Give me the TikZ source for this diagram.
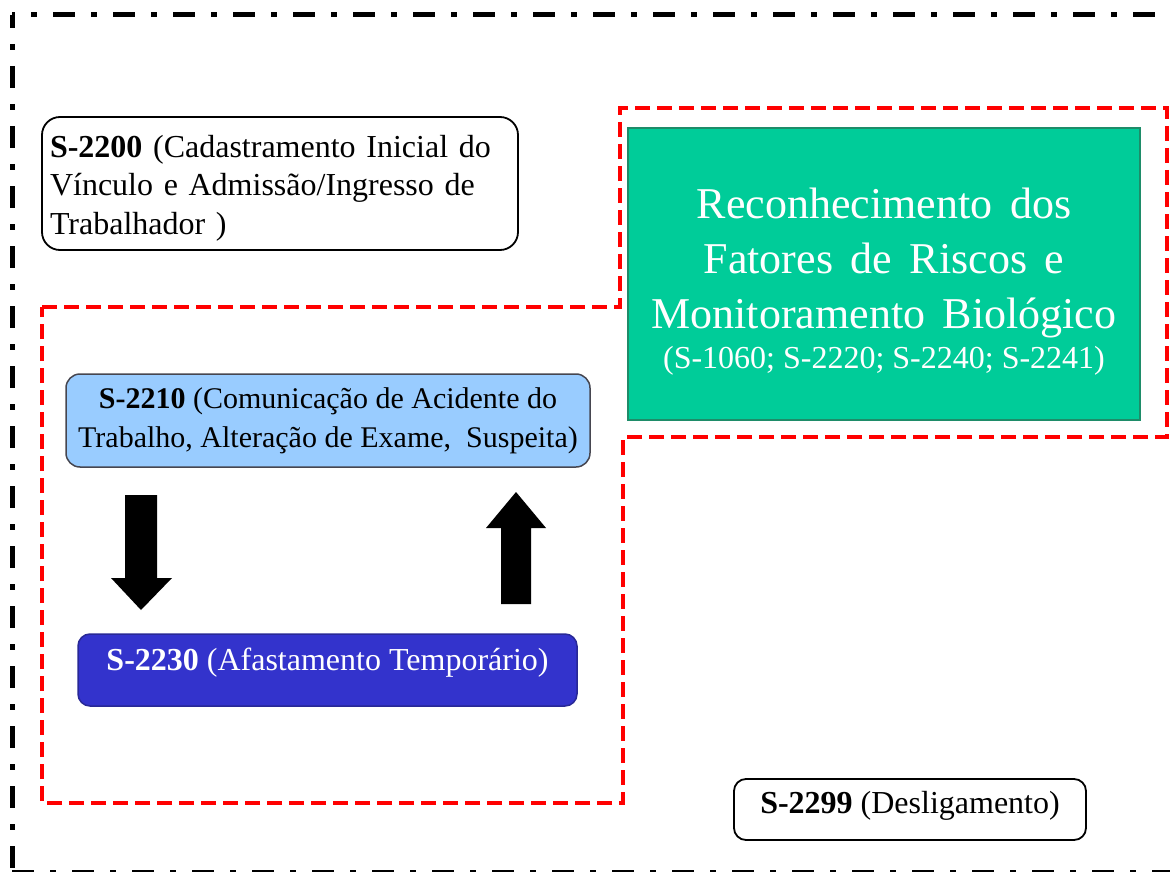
\documentclass[tikz,border=0pt]{standalone}
\usepackage{fontspec}
\setmainfont{Liberation Serif}
\definecolor{riskred}{RGB}{255,0,0}
\definecolor{greenfill}{RGB}{0,204,153}
\definecolor{greenedge}{RGB}{30,140,105}
\definecolor{skyfill}{RGB}{153,204,255}
\definecolor{skyedge}{RGB}{70,70,80}
\definecolor{indigofill}{RGB}{51,51,204}
\definecolor{indigoedge}{RGB}{40,40,150}
\newcommand\bigriskfont{\fontsize{44}{55}\selectfont\spaceskip=0.40em\relax}
\newcommand\smallriskfont{\fontsize{32}{40}\selectfont\spaceskip=0.25em\relax}
\begin{document}
\begin{tikzpicture}[x=1pt,y=-1pt,
  outerline/.style={line width=5pt, dash pattern=on 22pt off 16pt on 6pt off 16pt},
  riskzone/.style={draw=riskred, line width=4pt, dash pattern=on 15pt off 7pt},
  evbox/.style={draw, line width=1.8pt, rounded corners=16pt, inner sep=8pt},
  blockarrow/.style={fill=black}
]
\useasboundingbox (0,0) rectangle (1170,872);
\clip (0,0) rectangle (1170,872);

% outer dash-dot frame
\coordinate (fc) at (12,15);
\draw[outerline, dash phase=19pt] (fc) -- (1190,15);
\draw[outerline, dash phase=9pt] (fc) -- (12,872);
\draw[outerline] (12,872) -- (1190,872);

% red dashed zone
\draw[riskzone] (42,307) -- (620,307) -- (620,108) -- (1167,108) -- (1167,437)
  -- (623,437) -- (623,803) -- (42,803) -- cycle;

% S-2200
\node[evbox, rounded corners=18pt, minimum width=476pt, minimum height=133pt,
  text width=460pt, align=left, font=\fontsize{32}{38.5}\selectfont] (s2200) at (280,183.5)
  {\rule{0pt}{31pt}\textbf{S-2200} (Cadastramento Inicial do\\Vínculo e Admissão/Ingresso de\\Trabalhador )};

% green box
\node[draw=greenedge, fill=greenfill, line width=1.5pt, minimum width=512pt, minimum height=292pt,
  text=white, align=center, font=\bigriskfont] (risk) at (884,274)
  {\rule{0pt}{45pt}Reconhecimento dos\\Fatores de Riscos e\\Monitoramento Biológico\\[-15pt]{\smallriskfont (S-1060; S-2220; S-2240; S-2241)}};

% S-2210
\node[evbox, draw=skyedge, fill=skyfill, line width=1.5pt, rounded corners=14pt,
  minimum width=524pt, minimum height=93pt, align=center,
  font=\fontsize{30}{39}\selectfont] (s2210) at (328,420.5)
  {\textbf{S-2210} (Comunicação de Acidente do\\Trabalho, Alteração de Exame,\ \ Suspeita)};

% S-2230
\node[evbox, draw=indigoedge, fill=indigofill, line width=1.5pt, rounded corners=12pt,
  minimum width=499pt, minimum height=72pt, text=white, text height=22pt, text depth=22pt,
  font=\fontsize{32}{38}\selectfont] (s2230) at (327.5,670)
  {\textbf{S-2230} (Afastamento Temporário)};

% S-2299
\node[evbox, rounded corners=12pt, minimum width=352pt, minimum height=61pt,
  text height=22pt, text depth=14pt, font=\fontsize{32}{38}\selectfont] (s2299) at (910,809.5)
  {\textbf{S-2299} (Desligamento)};

% block arrows between S-2210 and S-2230
\fill[blockarrow] (125,495) -- (157,495) -- (157,578) -- (172,578) -- (141,610)
  -- (111,578) -- (125,578) -- cycle;
\fill[blockarrow] (501,604) -- (531,604) -- (531,528) -- (546,528) -- (516,492)
  -- (486,528) -- (501,528) -- cycle;
\end{tikzpicture}
\end{document}
